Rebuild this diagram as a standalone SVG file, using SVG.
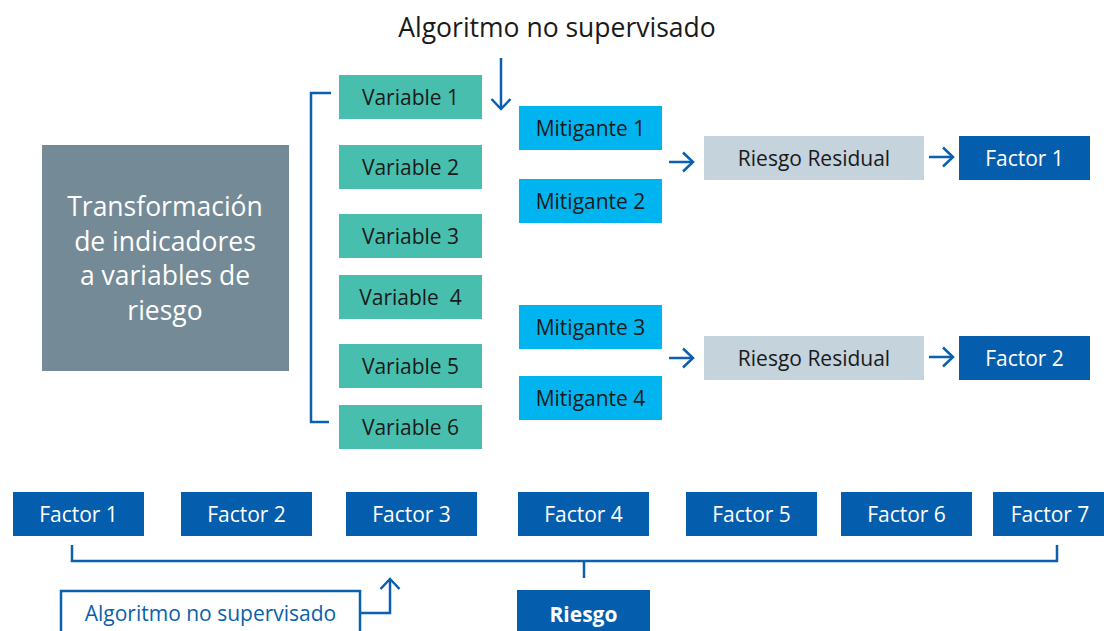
<svg xmlns="http://www.w3.org/2000/svg" width="1104" height="631" viewBox="0 0 1104 631">
<defs>
<marker id="arr" markerWidth="16" markerHeight="22" refX="13" refY="11" orient="auto" markerUnits="userSpaceOnUse">
<path d="M3,1.5 L13,11 L3,20.5" fill="none" stroke="#0a5fae" stroke-width="2.5"/>
</marker>
<style>
text{font-family:"Open Sans","Noto Sans","Liberation Sans",sans-serif;text-anchor:middle}
.var rect{fill:#48bfae}
.mit rect{fill:#00b5ef}
.res rect{fill:#c4d3dc}
.fac rect{fill:#055ead}
.dark{fill:#1a1a1a;font-size:21px}
.light{fill:#ffffff;font-size:21px}
.ln{fill:none;stroke:#0a5fae;stroke-width:2.5}
</style>
</defs>
<rect width="1104" height="631" fill="#ffffff"/>
<text x="557" y="37" style="font-size:26.5px;fill:#1a1a1a">Algoritmo no supervisado</text>
<g id="transform">
<rect x="42" y="145" width="247" height="226" fill="#748a96"/>
<text x="165" y="216" style="font-size:26.5px;fill:#ffffff">Transformación</text>
<text x="165" y="251" style="font-size:26.5px;fill:#ffffff">de indicadores</text>
<text x="165" y="285" style="font-size:26.5px;fill:#ffffff">a variables de</text>
<text x="165" y="320" style="font-size:26.5px;fill:#ffffff">riesgo</text>
</g>
<g id="var1" class="var"><rect x="339" y="75" width="143" height="44"/><text class="dark" x="410.5" y="105">Variable 1</text></g>
<g id="var2" class="var"><rect x="339" y="145" width="143" height="44"/><text class="dark" x="410.5" y="175">Variable 2</text></g>
<g id="var3" class="var"><rect x="339" y="214" width="143" height="44"/><text class="dark" x="410.5" y="244">Variable 3</text></g>
<g id="var4" class="var"><rect x="339" y="275" width="143" height="44"/><text class="dark" x="410.5" y="305" xml:space="preserve">Variable  4</text></g>
<g id="var5" class="var"><rect x="339" y="344" width="143" height="44"/><text class="dark" x="410.5" y="374">Variable 5</text></g>
<g id="var6" class="var"><rect x="339" y="405" width="143" height="44"/><text class="dark" x="410.5" y="435">Variable 6</text></g>
<g id="mit1" class="mit"><rect x="519" y="106" width="143" height="44"/><text class="dark" x="590.5" y="136">Mitigante 1</text></g>
<g id="mit2" class="mit"><rect x="519" y="179" width="143" height="44"/><text class="dark" x="590.5" y="209">Mitigante 2</text></g>
<g id="mit3" class="mit"><rect x="519" y="305" width="143" height="44"/><text class="dark" x="590.5" y="335">Mitigante 3</text></g>
<g id="mit4" class="mit"><rect x="519" y="376" width="143" height="44"/><text class="dark" x="590.5" y="406">Mitigante 4</text></g>
<g id="res1" class="res"><rect x="704" y="136" width="220" height="44"/><text class="dark" x="814" y="166">Riesgo Residual</text></g>
<g id="res2" class="res"><rect x="704" y="336" width="220" height="44"/><text class="dark" x="814" y="366">Riesgo Residual</text></g>
<g id="f1top" class="fac"><rect x="959" y="136" width="131" height="44"/><text class="light" x="1024.5" y="166">Factor 1</text></g>
<g id="f2top" class="fac"><rect x="959" y="336" width="131" height="44"/><text class="light" x="1024.5" y="366">Factor 2</text></g>
<g id="bf1" class="fac"><rect x="13" y="492" width="131" height="44"/><text class="light" x="78.5" y="522">Factor 1</text></g>
<g id="bf2" class="fac"><rect x="181" y="492" width="131" height="44"/><text class="light" x="246.5" y="522">Factor 2</text></g>
<g id="bf3" class="fac"><rect x="346" y="492" width="131" height="44"/><text class="light" x="411.5" y="522">Factor 3</text></g>
<g id="bf4" class="fac"><rect x="518" y="492" width="131" height="44"/><text class="light" x="583.5" y="522">Factor 4</text></g>
<g id="bf5" class="fac"><rect x="686" y="492" width="131" height="44"/><text class="light" x="751.5" y="522">Factor 5</text></g>
<g id="bf6" class="fac"><rect x="841" y="492" width="131" height="44"/><text class="light" x="906.5" y="522">Factor 6</text></g>
<g id="bf7" class="fac"><rect x="993" y="492" width="131" height="44"/><text class="light" x="1050" y="522">Factor 7</text></g>
<g id="riesgo" class="fac"><rect x="517" y="590" width="133" height="50"/><text class="light" x="583.5" y="622" style="font-weight:bold">Riesgo</text></g>
<g id="algo2">
<rect x="61" y="591" width="299" height="50" fill="#ffffff" stroke="#0a5fae" stroke-width="2.5"/>
<text x="210.5" y="621" style="font-size:21px;fill:#0a5fae">Algoritmo no supervisado</text>
</g>
<g id="connectors">
<path class="ln" d="M331,93 H311 V422 H329"/>
<path class="ln" d="M501,58 V109" marker-end="url(#arr)"/>
<path class="ln" d="M669,162 H693" marker-end="url(#arr)"/>
<path class="ln" d="M929,157 H953" marker-end="url(#arr)"/>
<path class="ln" d="M669,358 H693" marker-end="url(#arr)"/>
<path class="ln" d="M929,357 H953" marker-end="url(#arr)"/>
<path class="ln" d="M72,545 V561 H1057 V545"/>
<path class="ln" d="M584,561 V578"/>
<path class="ln" d="M360,613 H390 V579" marker-end="url(#arr)"/>
</g>
</svg>
